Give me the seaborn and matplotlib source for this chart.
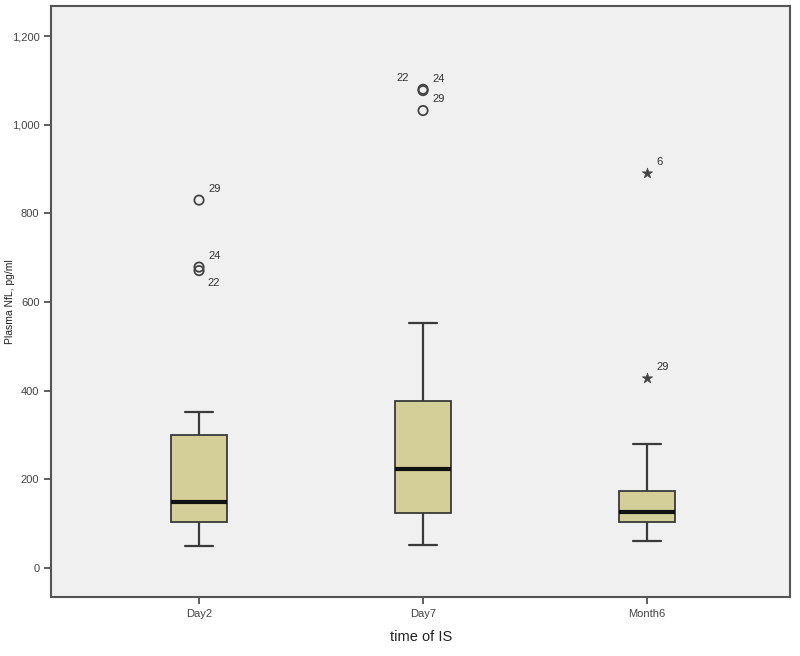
import seaborn as sns
import matplotlib.pyplot as plt
import pandas as pd

# summary values (pg/ml)
groups = ["Day2", "Day7", "Month6"]
box_min = [50, 52, 62]
box_q1 = [104, 125, 103]
box_median = [150, 223, 127]
box_q3 = [300, 377, 175]
box_max = [352, 553, 280]

# outliers (circles) and extremes (stars), with case numbers
out_group = ["Day2", "Day2", "Day2", "Day7", "Day7", "Day7", "Month6", "Month6"]
out_value = [830, 679, 671, 1080, 1077, 1032, 891, 429]
out_case = ["29", "24", "22", "22", "24", "29", "6", "29"]
out_kind = ["outlier"] * 6 + ["extreme"] * 2

# five points per group -> quartiles land exactly on the read values
rows = []
for g, a, b, c, d, e in zip(groups, box_min, box_q1, box_median, box_q3, box_max):
    for v in (a, b, c, d, e):
        rows.append({"time": g, "nfl": v})
df = pd.DataFrame(rows)
out = pd.DataFrame({"time": out_group, "nfl": out_value, "case": out_case, "kind": out_kind})

sns.set_style("ticks")
plt.rcParams["font.family"] = ["Liberation Sans", "DejaVu Sans"]

fig = plt.figure(figsize=(8, 6.56), dpi=100)
ax = fig.add_axes([0.064, 0.09, 0.924, 0.901])
ax.set_facecolor("#f0f0f0")

edge = "#3a3a3a"
sns.boxplot(data=df, x="time", y="nfl", order=groups, whis=(0, 100), width=0.25,
            showfliers=False, color="#d4cf98", saturation=1, linecolor=edge, linewidth=1.3,
            medianprops={"color": "#111111", "linewidth": 3.0},
            whiskerprops={"linewidth": 1.6}, capprops={"linewidth": 1.6},
            ax=ax)

circ = out[out["kind"] == "outlier"]
star = out[out["kind"] == "extreme"]
sns.scatterplot(data=circ, x="time", y="nfl", marker="o", s=45, facecolor="none",
                edgecolor="#444444", linewidth=1.3, ax=ax, legend=False)
sns.scatterplot(data=star, x="time", y="nfl", marker="*", s=60, color="#444444",
                edgecolor="#444444", linewidth=0.5, ax=ax, legend=False)

# label placement around each marker (points)
offsets = {("Day2", "22"): (6, -9), ("Day7", "22"): (-10, 8)}
for _, r in out.iterrows():
    dx, dy = offsets.get((r["time"], r["case"]), (7, 8))
    ax.annotate(r["case"], (groups.index(r["time"]), r["nfl"]), xytext=(dx, dy),
                textcoords="offset points", fontsize=8, color="#333333",
                ha="right" if dx < 0 else "left", va="center")

ax.set_xlim(-0.66, 2.64)
ax.set_ylim(-65, 1268)
ax.set_yticks(range(0, 1201, 200))
ax.set_yticklabels([f"{v:,}" for v in range(0, 1201, 200)])
ax.tick_params(axis="both", labelsize=8, colors="#444444", length=5, width=1.2)
ax.set_xlabel("time of IS", fontsize=10.5, color="#222222", labelpad=8)
ax.set_ylabel("Plasma NfL, pg/ml", fontsize=7.5, color="#222222", va="center")
ax.yaxis.set_label_coords(-0.056, 0.5)
for s in ax.spines.values():
    s.set_visible(True)
    s.set_color("#555555")
    s.set_linewidth(1.5)

fig.savefig("out.png", dpi=100, facecolor="white")
